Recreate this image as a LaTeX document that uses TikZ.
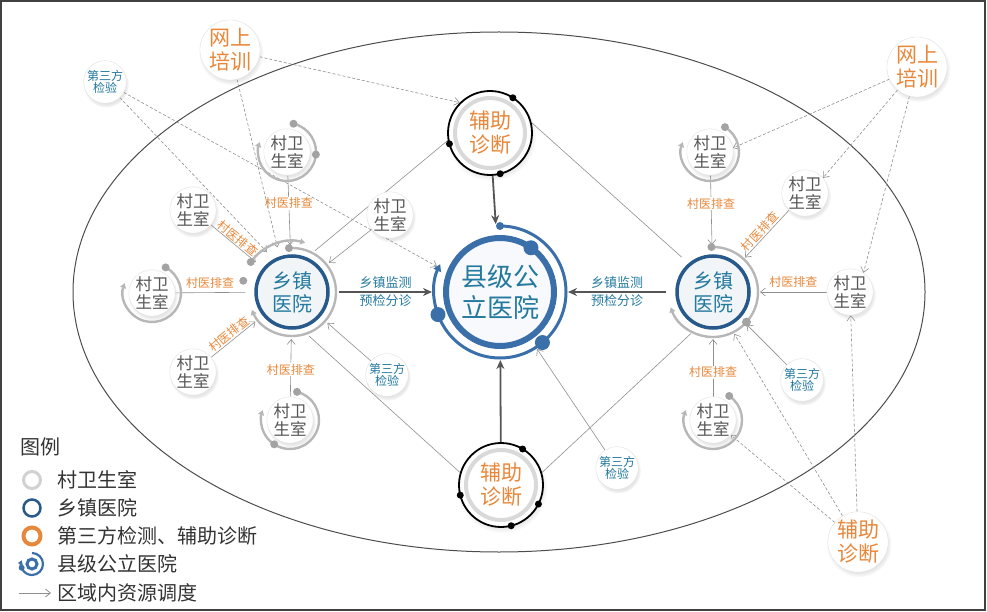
\documentclass[tikz,border=0pt]{standalone}
\usepackage{fontspec}
\setmainfont{Noto Sans CJK SC}
\usetikzlibrary{arrows.meta, positioning, shadows, backgrounds}
\definecolor{ringgray}{HTML}{B7B7B7}
\definecolor{dotgray}{HTML}{A3A3A3}
\definecolor{vilgray}{HTML}{555555}
\definecolor{hubblue}{HTML}{27598A}
\definecolor{cntblue}{HTML}{3A6FAA}
\definecolor{txtblue}{HTML}{23799E}
\definecolor{orng}{HTML}{E8873A}
\definecolor{linegray}{HTML}{8F8F8F}
\definecolor{arrowgray}{HTML}{555555}
\tikzset{
  soft/.style={circular drop shadow={shadow xshift=1pt, shadow yshift=-2.5pt,
               shadow scale=1.08, opacity=.2}},
  vil/.style={circle, draw=black!12, fill=white, soft, minimum size=44pt, inner sep=0pt,
              align=center, text=vilgray, font=\fontsize{16.5}{18}\selectfont},
  hub/.style={circle, draw=hubblue, line width=3.5pt, fill=hubblue!6, minimum size=72pt,
              inner sep=0pt, outer sep=11pt, align=center, text=txtblue,
              font=\fontsize{20}{23}\selectfont},
  cnty/.style={circle, draw=cntblue, line width=6pt, fill=cntblue!4, minimum size=108pt,
               inner sep=0pt, outer sep=14pt, align=center, text=txtblue,
               font=\fontsize{26}{31}\selectfont},
  aux/.style={circle, draw=black, line width=1.8pt, fill=white, soft, minimum size=84pt,
              inner sep=0pt, align=center, text=orng, font=\fontsize{21}{24}\selectfont},
  ext/.style={circle, draw=black!12, fill=white, soft, minimum size=54pt, inner sep=0pt,
              align=center, text=orng, font=\fontsize{21}{24}\selectfont},
  lab3/.style={circle, draw=black!12, fill=white, soft, minimum size=38pt, inner sep=0pt,
               align=center, text=txtblue, font=\fontsize{12}{12}\selectfont},
  res/.style={draw=linegray, line width=0.6pt, -{Straight Barb[length=5pt, width=8pt]}},
  link/.style={draw=linegray, line width=0.6pt},
  train/.style={draw=linegray, line width=0.6pt, dash pattern=on 3pt off 2pt,
                -{Straight Barb[length=5pt, width=8pt]}},
  mainflow/.style={draw=arrowgray, line width=1.8pt, -{Stealth[length=9pt, width=8pt]}},
  vring/.style={draw=ringgray, line width=2.4pt, -{Triangle[length=5pt, width=6pt]}},
  chk/.style={text=orng, font=\fontsize{12}{12}\selectfont, inner sep=1pt},
  mon/.style={text=txtblue, font=\fontsize{13}{13}\selectfont, inner sep=1pt},
  leg/.style={anchor=west, text=black!80, font=\fontsize{20}{20}\selectfont, inner sep=0pt},
}
\begin{document}
\begin{tikzpicture}[x=1pt, y=-1pt]
  \useasboundingbox (0,0) rectangle (987,612);
  \draw[black!75, line width=1.2pt] (1,1) rectangle (985,610);

  % county and township hospitals
  \node (county) [cnty] at (500,292) {县级公\\立医院};
  \node (twL)    [hub]  at (292,292) {乡镇\\医院};
  \node (twR)    [hub]  at (713,292) {乡镇\\医院};

  % auxiliary diagnosis
  \node (auxT) [aux] at (490,133) {辅助\\诊断};
  \node (auxB) [aux] at (501,485) {辅助\\诊断};

  % village clinics
  \node (vL1) [vil] at (193,210) {村卫\\生室};
  \node (vL2) [vil] at (152,293) {村卫\\生室};
  \node (vL3) [vil] at (193,372) {村卫\\生室};
  \node (vL4) [vil] at (290,420) {村卫\\生室};
  \node (vL5) [vil] at (287,152) {村卫\\生室};
  \node (vL6) [vil] at (390,215) {村卫\\生室};
  \node (vR1) [vil] at (710,152) {村卫\\生室};
  \node (vR2) [vil] at (805,193) {村卫\\生室};
  \node (vR3) [vil] at (850,292) {村卫\\生室};
  \node (vR4) [vil] at (713,420) {村卫\\生室};

  % third-party tests
  \node (tL)   [lab3] at (387,375) {第三方\\检验};
  \node (tB)   [lab3] at (617,468) {第三方\\检验};
  \node (tR)   [lab3] at (802,380) {第三方\\检验};
  \node (ocTL) [lab3] at (105,82)  {第三方\\检验};

  % outside resources
  \node (trainL) [ext] at (230,50)  {网上\\培训};
  \node (trainR) [ext] at (917,67)  {网上\\培训};
  \node (auxR)   [ext] at (858,542) {辅助\\诊断};

  % rings
  \draw[cntblue, line width=3pt, -{Triangle[length=7pt, width=8pt]}]
    ([shift={(-90:66)}]county.center) arc[start angle=-90, end angle=205, radius=66];
  \fill[cntblue] ([shift={(-90:66)}]county.center) circle[radius=4];
  \fill[cntblue] ([shift={(50:66)}]county.center) circle[radius=7.5];
  \fill[cntblue] ([shift={(-200:66)}]county.center) circle[radius=7.5];
  \fill[cntblue] ([shift={(-55:54)}]county.center) circle[radius=7.5];

  \draw[vring] ([shift={(-144:51)}]twL.center) arc[start angle=-144, end angle=-75, radius=51];
  \draw[vring] ([shift={(-94:44)}]twL.center) arc[start angle=-94, end angle=156, radius=44];
  \fill[dotgray] ([shift={(-144:51)}]twL.center) circle[radius=4];
  \fill[dotgray] ([shift={(-94:44)}]twL.center) circle[radius=4];
  \fill[dotgray] ([shift={(-167:50)}]twL.center) circle[radius=4];
  \draw[vring] ([shift={(-92:45)}]twR.center) arc[start angle=-92, end angle=160, radius=45];
  \fill[dotgray] ([shift={(-92:45)}]twR.center) circle[radius=4];
  \fill[dotgray] ([shift={(42:45)}]twR.center) circle[radius=4.5];

  \foreach \v/\a in {vL2/62, vL4/76, vL5/77, vR1/59, vR4/56} {
    \draw[vring] ([shift={(-\a:29)}]\v.center) arc[start angle=-\a, end angle=200, radius=29];
    \fill[dotgray] ([shift={(-\a:29)}]\v.center) circle[radius=4];
  }
  \fill[dotgray] ([shift={(5:29)}]vL5.center) circle[radius=4];
  \fill[dotgray] ([shift={(123:29)}]vL4.center) circle[radius=4];

  \draw[black!15, line width=4pt] (auxT.center) circle[radius=35];
  \draw[black!15, line width=4pt] (auxB.center) circle[radius=35];
  \foreach \a in {-57, -195, 76}
    \fill (auxT.center) ++(\a:42) circle[radius=3.5];
  \foreach \a in {-59, -194, 27, 76}
    \fill (auxB.center) ++(\a:42) circle[radius=3.5];

  \begin{scope}[on background layer]
    \draw[black!70, line width=1pt] (499,292) ellipse[x radius=426, y radius=260];

    \draw[mainflow] (twL) -- node[mon, above=2pt] {乡镇监测} node[mon, below=1pt] {预检分诊} (county);
    \draw[mainflow] (twR) -- node[mon, above=2pt] {乡镇监测} node[mon, below=1pt] {预检分诊} (county);
    \draw[mainflow] (auxT) -- (county);
    \draw[mainflow] (auxB) -- (county);

    \draw[link] (auxT.190) -- (twL.61);
    \draw[link] (auxT.14) -- (twR.132);
    \draw[link] (auxB.163) -- (twL.-69);
    \draw[link] (auxB.17) -- (twR.-118);

    \draw[res] (vL1) -- node[chk, sloped, above] {村医排查} (twL);
    \draw[link] (vL2) -- node[chk, above=3pt] {村医排查} (twL);
    \draw[res] (vL3) -- node[chk, sloped, above] {村医排查} (twL);
    \draw[res] (vL4) -- node[chk, fill=white, pos=0.47] {村医排查} (twL);
    \draw[res] (vL5) -- node[chk, fill=white, pos=0.4] {村医排查} (twL);
    \draw[res] (vL6) -- (twL);
    \draw[res] (tL) -- (twL);

    \draw[res] (vR1) -- node[chk, fill=white, pos=0.41] {村医排查} (twR);
    \draw[res] (vR2) -- node[chk, sloped, above, pos=0.55] {村医排查} (twR);
    \draw[res] (vR3) -- node[chk, above=3pt] {村医排查} (twR);
    \draw[res] (vR4) -- node[chk, fill=white, pos=0.42] {村医排查} (twR);
    \draw[res] (tR) -- (twR.-44);
    \draw[res] (tB) -- (county.-57);

    \draw[train] (ocTL) -- (twL.122);
    \draw[train] (ocTL) -- (county.158);
    \draw[train] (trainL) -- (twL.108);
    \draw[train] (trainL) -- (auxT.135);
    \draw[train] (trainR) -- (vR1.10);
    \draw[train] (trainR) -- (vR2.40);
    \draw[train] (trainR) -- (vR3.55);
    \draw[train] (auxR) -- (vR3);
    \draw[train] (auxR) -- (twR.-63);
    \draw[train] (auxR) -- (vR4.-40);
  \end{scope}

  % legend
  \node (legT) [leg] at (20,447) {图例};
  \draw[black!18, line width=3pt] (32,480) circle[radius=8.5];
  \node (leg1) [leg] at (57,480) {村卫生室};
  \draw[hubblue, line width=2.5pt] (32,508) circle[radius=8.5];
  \node (leg2) [leg] at (57,508) {乡镇医院};
  \draw[orng, line width=4pt] (32,536) circle[radius=8.5];
  \node (leg3) [leg] at (57,536) {第三方检测、辅助诊断};
  \draw[cntblue, line width=3pt] (32,564) circle[radius=5];
  \draw[cntblue, line width=2.2pt, -{Triangle[length=4pt, width=5pt]}]
    (32,553) arc[start angle=-90, end angle=200, radius=11];
  \fill[cntblue] (32,564) ++(-200:11) circle[radius=3];
  \node (leg4) [leg] at (57,564) {县级公立医院};
  \coordinate (legA) at (19,593);
  \coordinate (legB) at (51,593);
  \draw[res, line width=0.8pt] (legA) -- (legB);
  \node (leg5) [leg] at (57,593) {区域内资源调度};
\end{tikzpicture}
\end{document}
